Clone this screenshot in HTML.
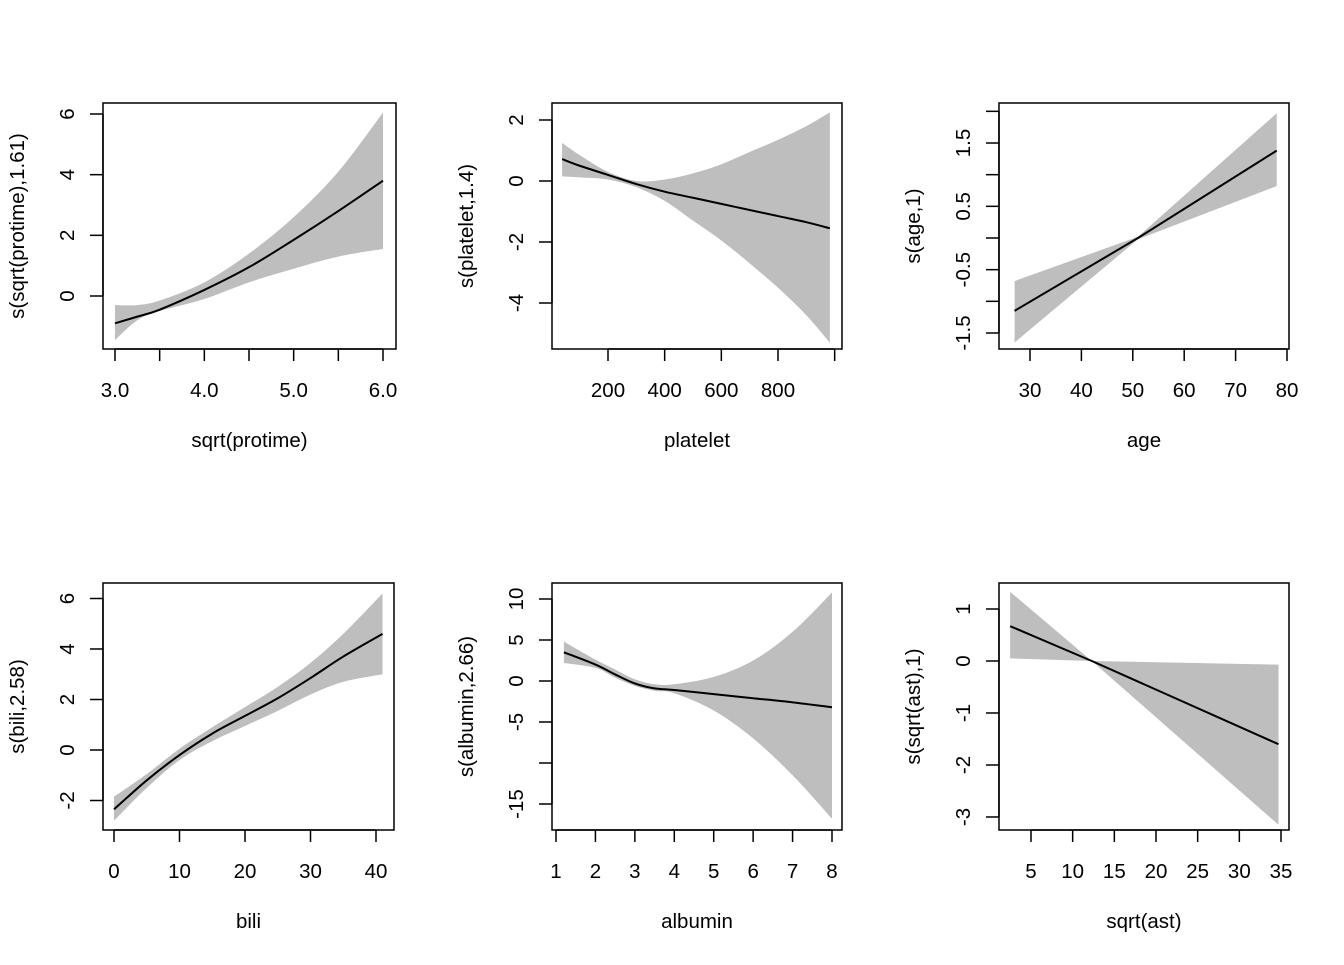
<!DOCTYPE html>
<html><head><meta charset="utf-8">
<style>
html,body{margin:0;padding:0;background:#fff;}
svg text{font-family:"Liberation Sans",Arial,sans-serif;font-size:20.5px;fill:#000;}
</style></head>
<body>
<svg id="chart" width="1344" height="960" xmlns="http://www.w3.org/2000/svg"></svg>
<script>
// ---- Panel 1: sqrt(protime)
const p1X = [3.0, 3.25, 3.5, 4.0, 4.5, 5.0, 5.5, 6.0];
const p1Fit = [-0.9, -0.68, -0.45, 0.2, 0.95, 1.85, 2.8, 3.8];
const p1Up = [-0.3, -0.3, -0.15, 0.45, 1.4, 2.6, 4.1, 6.05];
const p1Lo = [-1.45, -0.8, -0.5, -0.1, 0.45, 0.9, 1.3, 1.55];
const p1XTicks = [3.0, 3.5, 4.0, 4.5, 5.0, 5.5, 6.0];
const p1XLabels = ["3.0", "", "4.0", "", "5.0", "", "6.0"];
const p1YTicks = [0, 2, 4, 6];
const p1YLabels = ["0", "2", "4", "6"];
// ---- Panel 2: platelet
const p2X = [38, 100, 200, 300, 400, 500, 600, 700, 800, 900, 983];
const p2Fit = [0.72, 0.5, 0.2, -0.1, -0.35, -0.55, -0.75, -0.95, -1.15, -1.35, -1.55];
const p2Up = [1.25, 0.85, 0.3, 0.0, 0.05, 0.25, 0.55, 0.95, 1.35, 1.8, 2.25];
const p2Lo = [0.15, 0.12, 0.05, -0.2, -0.65, -1.3, -1.95, -2.7, -3.5, -4.4, -5.3];
const p2XTicks = [200, 400, 600, 800, 1000];
const p2XLabels = ["200", "400", "600", "800", ""];
const p2YTicks = [-4, -2, 0, 2];
const p2YLabels = ["-4", "-2", "0", "2"];
// ---- Panel 3: age
const p3X = [27, 51, 78];
const p3Fit = [-1.15, 0, 1.38];
const p3Up = [-0.68, 0.02, 1.97];
const p3Lo = [-1.65, -0.02, 0.82];
const p3XTicks = [30, 40, 50, 60, 70, 80];
const p3XLabels = ["30", "40", "50", "60", "70", "80"];
const p3YTicks = [-1.5, -1.0, -0.5, 0, 0.5, 1.0, 1.5, 2.0];
const p3YLabels = ["-1.5", "", "-0.5", "", "0.5", "", "1.5", ""];
// ---- Panel 4: bili
const p4X = [0, 5, 10, 15, 20, 25, 30, 35, 41];
const p4Fit = [-2.35, -1.2, -0.2, 0.65, 1.35, 2.05, 2.85, 3.7, 4.6];
const p4Up = [-1.85, -0.95, 0.05, 0.9, 1.7, 2.5, 3.45, 4.6, 6.2];
const p4Lo = [-2.8, -1.5, -0.4, 0.35, 0.95, 1.55, 2.2, 2.7, 3.0];
const p4XTicks = [0, 10, 20, 30, 40];
const p4XLabels = ["0", "10", "20", "30", "40"];
const p4YTicks = [-2, 0, 2, 4, 6];
const p4YLabels = ["-2", "0", "2", "4", "6"];
// ---- Panel 5: albumin
const p5X = [1.2, 2, 2.5, 3, 3.5, 4, 5, 6, 7, 8];
const p5Fit = [3.5, 2, 0.8, -0.3, -0.9, -1.1, -1.6, -2.1, -2.6, -3.2];
const p5Up = [4.8, 2.6, 1.4, 0.2, -0.4, -0.4, 0.5, 2.5, 6, 10.8];
const p5Lo = [2.2, 1.6, 0.4, -0.6, -1.2, -1.5, -3.6, -7, -11.5, -16.8];
const p5XTicks = [1, 2, 3, 4, 5, 6, 7, 8];
const p5XLabels = ["1", "2", "3", "4", "5", "6", "7", "8"];
const p5YTicks = [-15, -10, -5, 0, 5, 10];
const p5YLabels = ["-15", "", "-5", "0", "5", "10"];
// ---- Panel 6: sqrt(ast)
const p6X = [2.5, 12.3, 34.7];
const p6Fit = [0.67, 0, -1.6];
const p6Up = [1.33, 0.0, -0.07];
const p6Lo = [0.05, 0.0, -3.15];
const p6XTicks = [5, 10, 15, 20, 25, 30, 35];
const p6XLabels = ["5", "10", "15", "20", "25", "30", "35"];
const p6YTicks = [-3, -2, -1, 0, 1];
const p6YLabels = ["-3", "-2", "-1", "0", "1"];

const NS = "http://www.w3.org/2000/svg";
const svg = document.getElementById("chart");
function mk(tag, attrs, parent) {
  const e = document.createElementNS(NS, tag);
  for (const k in attrs) e.setAttribute(k, attrs[k]);
  parent.appendChild(e);
  return e;
}
function lin(d0, d1, r0, r1) { return v => r0 + (v - d0) * (r1 - r0) / (d1 - d0); }
// Catmull-Rom smoothing of pixel points into cubic path segments
function smooth(pts, move) {
  let d = (move ? "M" : "L") + pts[0][0] + "," + pts[0][1];
  for (let i = 0; i < pts.length - 1; i++) {
    const p0 = pts[i - 1] || pts[i], p1 = pts[i], p2 = pts[i + 1], p3 = pts[i + 2] || p2;
    const c1x = p1[0] + (p2[0] - p0[0]) / 6, c1y = p1[1] + (p2[1] - p0[1]) / 6;
    const c2x = p2[0] - (p3[0] - p1[0]) / 6, c2y = p2[1] - (p3[1] - p1[1]) / 6;
    d += " C" + c1x + "," + c1y + " " + c2x + "," + c2y + " " + p2[0] + "," + p2[1];
  }
  return d;
}

const panels = [
  {name:"protime", box:[103,103,396,349], xm:[3,115,6,383], ym:[0,296,6,114], X:p1X, F:p1Fit, U:p1Up, L:p1Lo, xt:p1XTicks, xl:p1XLabels, yt:p1YTicks, yl:p1YLabels, xlab:"sqrt(protime)", ylab:"s(sqrt(protime),1.61)"},
  {name:"platelet", box:[552,103,842,349], xm:[200,608,800,778], ym:[0,181,2,120], X:p2X, F:p2Fit, U:p2Up, L:p2Lo, xt:p2XTicks, xl:p2XLabels, yt:p2YTicks, yl:p2YLabels, xlab:"platelet", ylab:"s(platelet,1.4)"},
  {name:"age", box:[999,103,1289,349], xm:[30,1030,80,1287], ym:[-1.5,333,1.5,143], X:p3X, F:p3Fit, U:p3Up, L:p3Lo, xt:p3XTicks, xl:p3XLabels, yt:p3YTicks, yl:p3YLabels, xlab:"age", ylab:"s(age,1)"},
  {name:"bili", box:[103,583,394,830], xm:[0,114,40,376], ym:[0,750,4,649], X:p4X, F:p4Fit, U:p4Up, L:p4Lo, xt:p4XTicks, xl:p4XLabels, yt:p4YTicks, yl:p4YLabels, xlab:"bili", ylab:"s(bili,2.58)"},
  {name:"albumin", box:[552,583,842,830], xm:[1,556,8,832], ym:[0,681,10,599], X:p5X, F:p5Fit, U:p5Up, L:p5Lo, xt:p5XTicks, xl:p5XLabels, yt:p5YTicks, yl:p5YLabels, xlab:"albumin", ylab:"s(albumin,2.66)"},
  {name:"ast", box:[999,583,1289,830], xm:[5,1031,35,1281], ym:[0,661,1,609], X:p6X, F:p6Fit, U:p6Up, L:p6Lo, xt:p6XTicks, xl:p6XLabels, yt:p6YTicks, yl:p6YLabels, xlab:"sqrt(ast)", ylab:"s(sqrt(ast),1)"}
];

panels.forEach(p => {
  const g = mk("g", {}, svg);
  
  
  const sx = lin(p.xm[0], p.xm[2], p.xm[1], p.xm[3]);
  const sy = lin(p.ym[0], p.ym[2], p.ym[1], p.ym[3]);
  const [x0, y0, x1, y1] = p.box;
  const up = p.X.map((x, i) => [sx(x), sy(p.U[i])]);
  const lo = p.X.map((x, i) => [sx(x), sy(p.L[i])]).reverse();
  const lin2 = p.X.length <= 3;
  const bandD = lin2
    ? "M" + up.concat(lo).map(q => q[0] + "," + q[1]).join(" L") + " Z"
    : smooth(up, true) + " " + smooth(lo, false) + " Z";
  const band = mk("path", {d: bandD, fill: "#bebebe", stroke: "none"}, g);
  
  
  const fp = p.X.map((x, i) => [sx(x), sy(p.F[i])]);
  const fd = lin2 ? "M" + fp.map(q => q[0] + "," + q[1]).join(" L") : smooth(fp, true);
  const line = mk("path", {d: fd, fill: "none", stroke: "#000", "stroke-width": 2}, g);
  
  
  const box = mk("rect", {x: x0, y: y0, width: x1 - x0, height: y1 - y0, fill: "none", stroke: "#000", "stroke-width": 1.5}, g);
  
  
  const xa = mk("g", {}, g);
  
  
  mk("line", {x1: sx(p.xt[0]), x2: sx(p.xt[p.xt.length-1]), y1: y1, y2: y1, stroke: "#000", "stroke-width": 1.5}, xa);
  p.xt.forEach((t, i) => {
    mk("line", {x1: sx(t), x2: sx(t), y1: y1, y2: y1 + 12, stroke: "#000", "stroke-width": 1.5}, xa);
    if (p.xl[i]) {
      const tx = mk("text", {x: sx(t), y: y1 + 48, "text-anchor": "middle"}, xa);
      tx.textContent = p.xl[i];
      
      
    }
  });
  const xt = mk("text", {x: (x0 + x1) / 2, y: y1 + 98, "text-anchor": "middle"}, g);
  xt.textContent = p.xlab;
  
  
  const ya = mk("g", {}, g);
  
  
  mk("line", {x1: x0, x2: x0, y1: sy(p.yt[0]), y2: sy(p.yt[p.yt.length-1]), stroke: "#000", "stroke-width": 1.5}, ya);
  p.yt.forEach((t, i) => {
    mk("line", {x1: x0 - 13, x2: x0, y1: sy(t), y2: sy(t), stroke: "#000", "stroke-width": 1.5}, ya);
    if (p.yl[i]) {
      const lx = x0 - 29, ly = sy(t);
      const ty = mk("text", {x: lx, y: ly, "text-anchor": "middle", transform: "rotate(-90 " + lx + " " + ly + ")"}, ya);
      ty.textContent = p.yl[i];
      
      
    }
  });
  const yx = x0 - 79, yy = (y0 + y1) / 2;
  const yt = mk("text", {x: yx, y: yy, "text-anchor": "middle", transform: "rotate(-90 " + yx + " " + yy + ")"}, g);
  yt.textContent = p.ylab;
  
  
});
</script>
</body></html>
